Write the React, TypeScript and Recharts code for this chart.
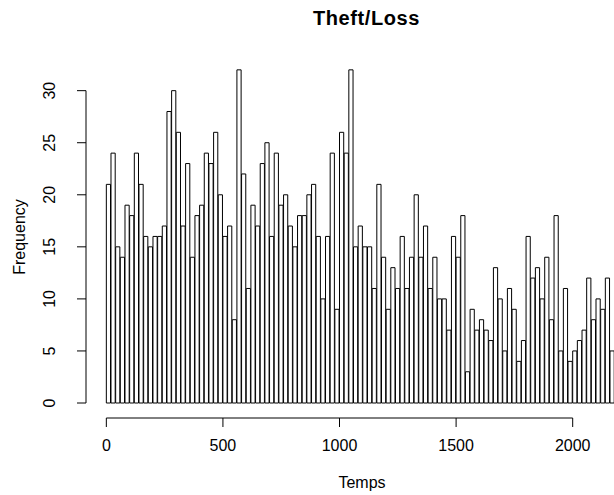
import React from 'react';
import { ComposedChart, Bar, XAxis, YAxis, ReferenceLine } from 'recharts';

// Histogram of incident times (bins of 20 units, starting at 0)
const counts = [
  21, 24, 15, 14, 19, 18, 24, 21, 16, 15, 16, 16, 17, 28, 30, 26, 17,
  23, 14, 18, 19, 24, 23, 26, 20, 16, 17, 8, 32, 22, 11, 19, 17, 23, 25,
  16, 24, 19, 20, 17, 15, 18, 18, 20, 21, 16, 10, 16, 24, 9, 26, 24, 32,
  15, 17, 15, 15, 11, 21, 14, 9, 13, 11, 16, 11, 14, 20, 14, 17, 11, 14, 10,
  10, 7, 16, 14, 18, 3, 9, 7, 8, 7, 6, 13, 10, 5, 11, 9, 4, 6,
  16, 12, 13, 10, 14, 8, 18, 5, 11, 4, 5, 6, 7, 12, 8, 10, 9, 12, 5,
];
const BIN_WIDTH = 20;
const xTicks = [0, 500, 1000, 1500, 2000];
const yTicks = [0, 5, 10, 15, 20, 25, 30];
const title = 'Theft/Loss';
const xLabel = 'Temps';
const yLabel = 'Frequency';

const bins = counts.map((count, i) => ({
  bin: `${i * BIN_WIDTH}-${(i + 1) * BIN_WIDTH}`,
  start: i * BIN_WIDTH,
  count,
}));

// Axis ranges, with the usual 4% expansion on x
const X_END = counts.length * BIN_WIDTH;
const X_EXP = 0.04 * X_END;
const X_MIN = -X_EXP;
const X_MAX = X_END + X_EXP;
const Y_MIN = -1.44;
const Y_MAX = 33.33;

// Layout
const CHART_W = 640;
const CHART_H = 495;
const MARGIN = { top: 56, right: 5, bottom: 0, left: 0 };
const Y_AXIS_W = 86;
const X_AXIS_H = 77;
const PLOT_W = CHART_W - MARGIN.left - MARGIN.right - Y_AXIS_W;
const PAD_PX = (PLOT_W * X_EXP) / (X_MAX - X_MIN);
const BAR_PX = (PLOT_W - 2 * PAD_PX) / counts.length;

const FONT = '"Liberation Sans", Arial, Helvetica, sans-serif';

const YTick = (props: any) => {
  const { x, y, payload } = props;
  return (
    <text
      x={x}
      y={y}
      transform={`rotate(-90 ${x} ${y})`}
      textAnchor="middle"
      fontSize={16}
      fontFamily={FONT}
      fill="#000"
    >
      {payload.value}
    </text>
  );
};

export default function App() {
  return (
    <div
      style={{
        position: 'absolute',
        left: 0,
        top: 0,
        width: 614,
        height: 495,
        overflow: 'hidden',
        background: '#fff',
      }}
    >
      <ComposedChart
        width={CHART_W}
        height={CHART_H}
        data={bins}
        margin={MARGIN}
        barCategoryGap={0}
        barGap={0}
      >
        <XAxis
          xAxisId="bins"
          dataKey="bin"
          type="category"
          hide
          height={0}
          padding={{ left: PAD_PX, right: PAD_PX }}
        />
        <XAxis
          xAxisId="t"
          dataKey="start"
          type="number"
          domain={[X_MIN, X_MAX]}
          ticks={xTicks}
          interval={0}
          allowDataOverflow
          axisLine={false}
          tickLine={{ stroke: '#000' }}
          tickSize={9}
          tickMargin={13}
          height={X_AXIS_H}
          tick={{ fontSize: 16, fill: '#000', fontFamily: FONT }}
        />
        <YAxis
          type="number"
          domain={[Y_MIN, Y_MAX]}
          ticks={yTicks}
          interval={0}
          allowDataOverflow
          width={Y_AXIS_W}
          axisLine={false}
          tickLine={{ stroke: '#000' }}
          tickSize={9}
          tickMargin={21.7}
          tick={<YTick />}
        />
        <Bar
          xAxisId="bins"
          dataKey="count"
          fill="#fff"
          stroke="#000"
          strokeWidth={1}
          barSize={BAR_PX}
          isAnimationActive={false}
        />
        <ReferenceLine
          xAxisId="t"
          segment={[{ x: X_MIN, y: 0 }, { x: X_MIN, y: 30 }]}
          stroke="#000"
          ifOverflow="visible"
        />
        <ReferenceLine
          xAxisId="t"
          segment={[{ x: 0, y: Y_MIN }, { x: 2000, y: Y_MIN }]}
          stroke="#000"
          ifOverflow="visible"
        />
      </ComposedChart>
      <svg
        width={614}
        height={495}
        style={{ position: 'absolute', left: 0, top: 0, pointerEvents: 'none' }}
      >
        <text
          x={366.5}
          y={25}
          textAnchor="middle"
          fontSize={20}
          letterSpacing={0.6}
          fontWeight="bold"
          fontFamily={FONT}
          fill="#000"
        >
          {title}
        </text>
        <text x={362} y={487.5} textAnchor="middle" fontSize={16} fontFamily={FONT} fill="#000">
          {xLabel}
        </text>
        <text
          x={24.5}
          y={237}
          transform="rotate(-90 24.5 237)"
          textAnchor="middle"
          fontSize={16}
          fontFamily={FONT}
          fill="#000"
        >
          {yLabel}
        </text>
      </svg>
    </div>
  );
}
